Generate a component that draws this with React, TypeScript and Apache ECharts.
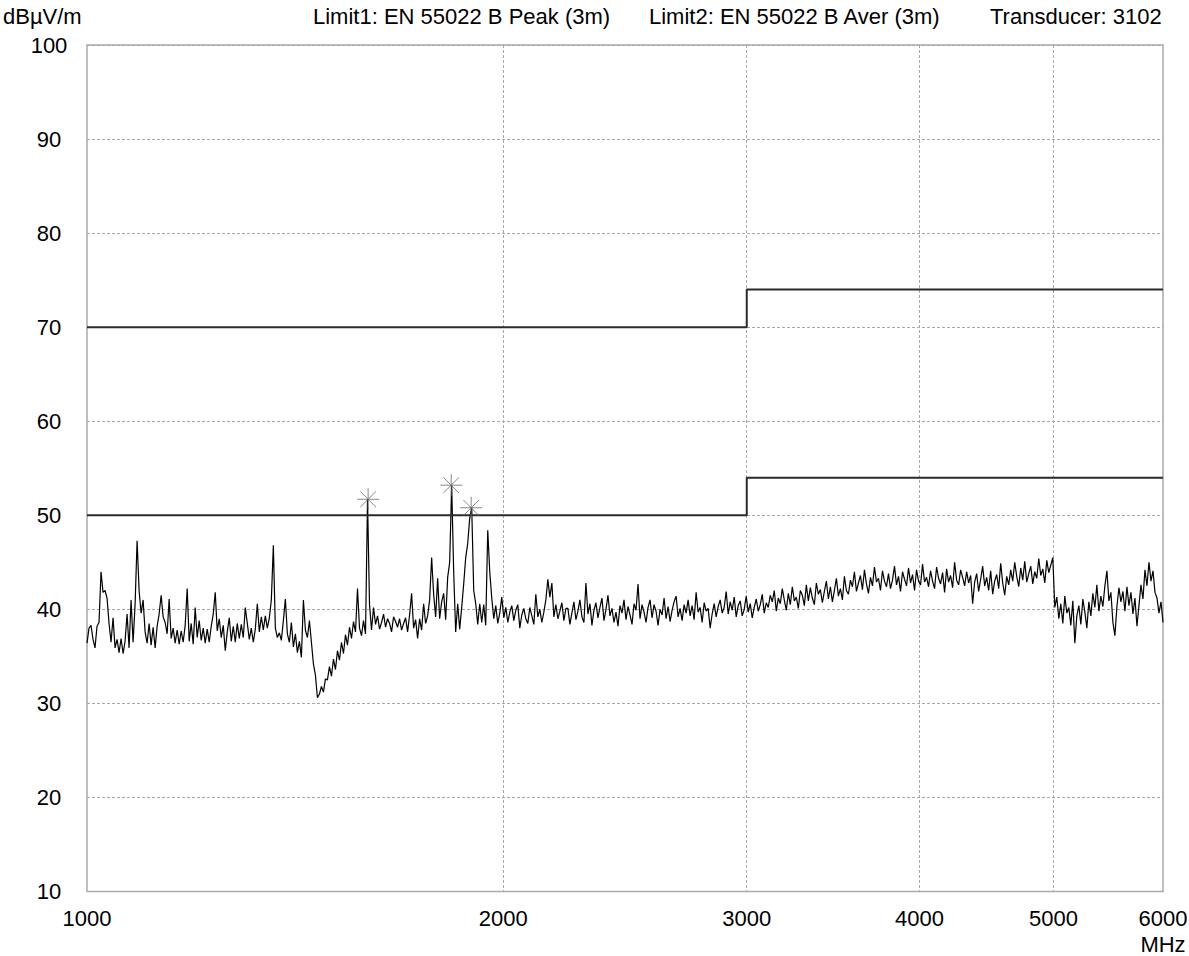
import React, { useEffect, useRef } from "react";
import * as echarts from "echarts";

// Receiver sweep: log-spaced points from start to stop frequency (MHz)
const SWEEP_START_MHZ = 1000;
const SWEEP_STOP_MHZ = 6000;

// Measured field strength, dBµV/m, in sweep order
const level1000to1600 = [
  36.4, 38.0, 38.3, 36.8, 35.9, 38.2, 38.6, 44.0, 41.8, 42.0, 41.2, 38.5, 36.5, 39.1, 35.9, 36.8, 35.4, 36.9, 35.3, 36.6,
  39.5, 35.9, 41.0, 36.5, 40.5, 47.3, 42.0, 39.6, 41.0, 37.6, 36.4, 38.5, 36.2, 38.1, 35.9, 38.2, 39.5, 41.5, 39.2, 38.6,
  37.4, 41.1, 36.9, 38.0, 36.4, 37.8, 36.3, 37.7, 36.5, 38.3, 42.2, 36.6, 38.5, 36.3, 40.2, 37.0, 38.8, 36.7, 38.0, 36.4,
  37.9, 36.5, 38.2, 39.5, 41.8, 37.7, 39.0, 37.0, 38.3, 35.6, 37.6, 39.1, 36.6, 38.2, 36.5, 38.5, 36.9, 38.4, 37.0, 40.2,
  38.5, 36.8, 38.0, 36.5, 37.9, 40.6, 37.6, 39.2, 37.8, 39.3, 38.0, 39.1, 41.0, 46.8, 38.0, 37.0, 37.5, 36.7, 38.8, 41.1,
  37.4, 36.5, 38.6, 36.0, 37.4, 35.4, 36.6, 34.9, 41.0, 37.8, 37.0, 38.8, 36.5, 34.2, 33.0, 30.6, 31.0, 31.8, 31.2, 32.6,
  32.5, 33.9, 32.9, 34.7, 33.6, 35.6, 34.6, 36.5, 35.3, 37.3, 36.2, 38.1, 36.9, 38.7, 37.6, 42.2, 38.0, 37.2, 38.8, 37.4,
];
const level1600to2200 = [
  51.7, 40.5, 37.8, 40.2, 38.4, 39.3, 37.9, 38.6, 39.5, 38.1, 39.0, 38.5, 37.6, 39.2, 38.7, 38.1, 39.0, 37.8, 38.5, 39.1,
  37.6, 39.4, 41.7, 38.0, 38.9, 36.9, 39.0, 37.8, 40.6, 38.5, 39.3, 41.0, 45.5, 41.6, 39.2, 43.3, 39.0, 40.8, 41.7, 38.9,
  43.4, 45.0, 53.2, 44.0, 37.6, 40.6, 37.9, 40.2, 42.7, 45.5, 47.0, 49.7, 50.8, 42.0, 40.6, 38.4, 40.6, 38.6, 40.5, 38.3,
  48.4, 44.0, 41.2, 39.0, 40.4, 38.5, 39.6, 41.3, 39.1, 40.2, 38.6, 39.7, 40.4, 38.8, 39.9, 40.5, 38.0, 39.4, 40.1, 39.0,
  38.5, 40.2, 39.3, 38.4, 41.6, 39.2, 40.0, 38.6, 39.7, 41.0, 43.2, 41.3, 42.8, 39.2, 40.5, 39.0, 39.8, 40.7, 38.8, 40.1,
];
const level2200to3100 = [
  40.1, 38.4, 39.6, 40.8, 38.9, 39.8, 41.0, 39.2, 38.6, 42.8, 39.5, 40.6, 38.3, 39.9, 40.7, 39.1, 40.2, 41.2, 38.8, 40.0,
  41.5, 39.3, 40.1, 38.6, 39.7, 38.2, 40.4, 39.6, 41.0, 38.9, 40.3, 39.4, 38.4, 40.6, 39.9, 42.7, 39.0, 40.5, 39.7, 38.6,
  40.2, 41.0, 39.1, 40.5, 39.8, 38.3, 40.0, 39.4, 41.2, 39.0, 40.3, 38.7, 39.9, 40.8, 41.4, 39.2, 40.1, 38.8, 40.5, 39.6,
  41.0, 39.3, 40.4, 38.9, 41.8, 39.7, 40.2, 38.6, 40.7, 39.8, 40.1, 38.0, 39.5, 40.6, 39.2, 40.3, 41.0, 39.6, 40.2, 41.9,
  39.5, 40.8, 39.9, 41.3, 39.2, 40.4, 40.9, 39.3, 40.0, 41.4, 39.7, 40.6, 39.1, 40.2, 41.1, 39.8, 40.5, 41.6, 39.6, 40.7,
];
const level3100to4300 = [
  40.2, 41.5, 40.8, 42.0, 39.8, 41.2, 40.6, 42.2, 41.0, 39.9, 41.7, 40.5, 42.4, 40.9, 41.3, 40.1, 42.0, 41.5, 40.4, 42.6,
  40.9, 42.3, 41.2, 40.5, 42.8, 41.6, 42.1, 40.7, 41.9, 43.0, 41.1, 42.4, 40.8, 42.0, 43.3, 41.4, 42.2, 41.0, 43.5, 42.0,
  41.6, 43.1, 42.4, 44.0, 41.9, 42.8, 43.6, 42.1, 44.2, 42.7, 41.7, 43.4, 42.5, 44.5, 42.9, 43.3, 42.0, 44.1, 43.0, 42.4,
  43.8, 42.2, 43.1, 44.6, 42.6, 43.5, 41.9, 44.0, 43.2, 42.5, 44.4, 42.8, 43.7, 42.0, 44.2, 43.0, 42.6, 44.8, 42.9, 43.4,
  42.4, 44.1, 43.0, 42.2, 44.5, 43.3, 42.7, 43.9, 41.8, 44.3, 42.9, 43.6, 42.3, 45.0, 43.1, 42.6, 44.2, 43.4, 42.5, 44.0,
];
const level4300to6000 = [
  42.8, 43.6, 40.6, 42.9, 43.8, 41.9, 43.2, 44.6, 42.5, 43.4, 42.0, 44.1, 41.6, 43.0, 43.7, 42.2, 44.9, 42.8, 41.5, 43.5,
  42.6, 44.2, 43.0, 45.0, 43.5, 42.4, 44.4, 43.1, 45.1, 42.9, 43.8, 44.6, 42.7, 44.0, 43.3, 45.4, 43.6, 44.3, 42.8, 45.2,
  43.9, 44.7, 45.5, 40.2, 41.3, 39.0, 40.6, 38.5, 41.4, 39.6, 40.2, 38.3, 40.9, 36.4, 39.3, 40.4, 38.4, 41.1, 39.7, 38.0,
  40.8, 39.3, 41.7, 40.2, 42.6, 39.8, 41.4, 40.3, 42.5, 44.1, 40.9, 41.8, 38.6, 37.2, 40.3, 42.3, 40.8, 41.9, 39.8, 42.4,
  40.4, 41.8, 39.5, 41.2, 38.2, 40.4, 42.6, 41.1, 44.2, 42.5, 45.0, 43.0, 44.1, 41.8, 41.2, 39.6, 40.8, 38.6,
];
const traceLevels = [
  ...level1000to1600,
  ...level1600to2200,
  ...level2200to3100,
  ...level3100to4300,
  ...level4300to6000,
];

// Peak markers
const peakFreqs = [1597, 1834, 1896];
const peakLevels = [51.7, 53.2, 50.8];

// Limit1: EN 55022 B Peak (3m)
const limit1Freqs = [1000, 3000, 3000, 6000];
const limit1Levels = [70, 70, 74, 74];
// Limit2: EN 55022 B Aver (3m)
const limit2Freqs = [1000, 3000, 3000, 6000];
const limit2Levels = [50, 50, 54, 54];

// Axes
const freqLabels = [1000, 2000, 3000, 4000, 5000, 6000];
const freqGridLines = [2000, 3000, 4000, 5000];
const LEVEL_MIN = 10;
const LEVEL_MAX = 100;
const LEVEL_STEP = 10;

const UNIT_Y = "dBµV/m";
const UNIT_X = "MHz";
const headerLimit1 = "Limit1: EN 55022 B Peak (3m)";
const headerLimit2 = "Limit2: EN 55022 B Aver (3m)";
const headerTransducer = "Transducer: 3102";

const FONT_FAMILY = '"Liberation Sans", Arial, Helvetica, sans-serif';
const FONT_SIZE = 22;

const lg = (f: number) => Math.log10(f);

export default function App() {
  const ref = useRef<HTMLDivElement>(null);

  useEffect(() => {
    if (!ref.current) return;
    const chart = echarts.init(ref.current, undefined, { renderer: "svg" });

    const n = traceLevels.length;
    const sweepFreqs = traceLevels.map(
      (_, i) => SWEEP_START_MHZ * Math.pow(SWEEP_STOP_MHZ / SWEEP_START_MHZ, i / (n - 1))
    );
    const traceData = sweepFreqs.map((f, i) => [lg(f), traceLevels[i]]);
    const limit1Data = limit1Freqs.map((f, i) => [lg(f), limit1Levels[i]]);
    const limit2Data = limit2Freqs.map((f, i) => [lg(f), limit2Levels[i]]);
    const peakData = peakFreqs.map((f, i) => [lg(f), peakLevels[i]]);

    const textStyle = { fontFamily: FONT_FAMILY, fontSize: FONT_SIZE, color: "#000" };
    const headerFont = `${FONT_SIZE}px ${FONT_FAMILY}`;

    chart.setOption({
      animation: false,
      backgroundColor: "#fff",
      grid: {
        left: 87,
        right: 26,
        top: 45,
        bottom: 64.5,
        show: true,
        borderColor: "#ababab",
        borderWidth: 1.5,
        containLabel: false,
        outerBoundsMode: "none",
      },
      xAxis: {
        type: "value",
        min: lg(SWEEP_START_MHZ),
        max: lg(SWEEP_STOP_MHZ),
        axisLine: { show: false },
        axisTick: { show: false, customValues: freqGridLines.map(lg) },
        splitLine: {
          show: true,
          lineStyle: { color: "#a8a8a8", width: 1, type: [3, 2] },
        },
        axisLabel: {
          ...textStyle,
          customValues: freqLabels.map(lg),
          margin: 14,
          lineHeight: 26,
          align: "center",
          formatter: (v: number) => {
            const f = Math.round(Math.pow(10, v));
            return f === SWEEP_STOP_MHZ ? `${f}\n${UNIT_X}` : `${f}`;
          },
        },
      },
      yAxis: {
        type: "value",
        min: LEVEL_MIN,
        max: LEVEL_MAX,
        interval: LEVEL_STEP,
        axisLine: { show: false },
        axisTick: { show: false },
        splitLine: {
          show: true,
          lineStyle: { color: "#a8a8a8", width: 1, type: [3, 2] },
        },
        axisLabel: { ...textStyle, align: "center", margin: 38 },
      },
      graphic: [
        { type: "text", x: 3, y: 16.5, style: { text: UNIT_Y, font: headerFont, fill: "#000", verticalAlign: "middle" } },
        { type: "text", x: 313, y: 16.5, style: { text: headerLimit1, font: headerFont, fill: "#000", verticalAlign: "middle" } },
        { type: "text", x: 649, y: 16.5, style: { text: headerLimit2, font: headerFont, fill: "#000", verticalAlign: "middle" } },
        { type: "text", x: 990, y: 16.5, style: { text: headerTransducer, font: headerFont, fill: "#000", verticalAlign: "middle" } },
      ],
      series: [
        {
          name: "Trace",
          type: "line",
          data: traceData,
          symbol: "none",
          showSymbol: false,
          lineStyle: { color: "#000", width: 1.2 },
          z: 2,
        },
        {
          name: "Limit1",
          type: "line",
          data: limit1Data,
          symbol: "none",
          lineStyle: { color: "#2b2b2b", width: 2 },
          z: 3,
        },
        {
          name: "Limit2",
          type: "line",
          data: limit2Data,
          symbol: "none",
          lineStyle: { color: "#2b2b2b", width: 2 },
          z: 3,
        },
        {
          name: "Peaks",
          type: "scatter",
          data: peakData,
          symbol: "path://M11,0L11,22M0,11L22,11M3.2,3.2L18.8,18.8M3.2,18.8L18.8,3.2",
          symbolSize: 22,
          itemStyle: { color: "none", borderColor: "#6a6a6a", borderWidth: 1 },
          z: 4,
        },
      ],
    });

    return () => chart.dispose();
  }, []);

  return (
    <div
      ref={ref}
      style={{ position: "absolute", left: 0, top: 0, width: 1189, height: 956, background: "#fff" }}
    />
  );
}
